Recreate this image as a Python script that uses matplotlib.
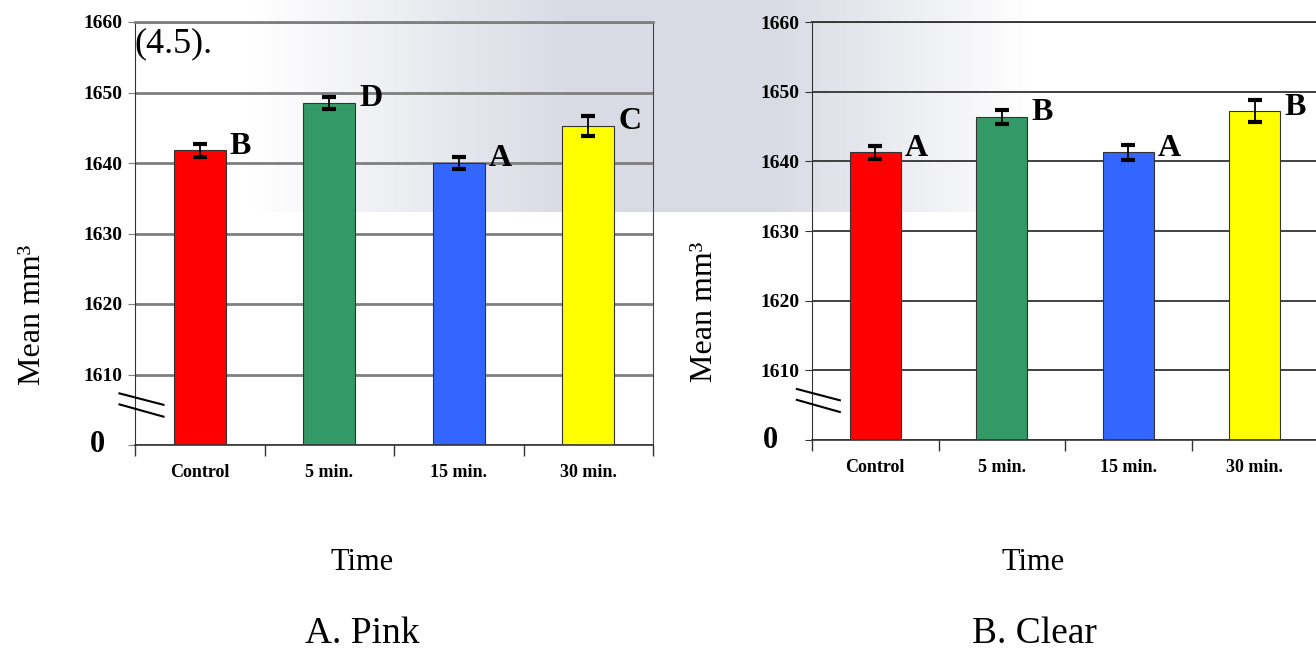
import numpy as np
import matplotlib.pyplot as plt

# data
categories = ['Control', '5 min.', '15 min.', '30 min.']
pink_means = [1641.8, 1648.5, 1640.0, 1645.3]
pink_errs = [0.95, 0.9, 0.85, 1.4]
pink_letters = ['B', 'D', 'A', 'C']
clear_means = [1641.3, 1646.4, 1641.3, 1647.2]
clear_errs = [0.9, 1.0, 1.05, 1.6]
clear_letters = ['A', 'B', 'A', 'B']
y_ticks = [1600, 1610, 1620, 1630, 1640, 1650, 1660]
y_tick_labels = ['0', '1610', '1620', '1630', '1640', '1650', '1660']
bar_colors = ['#ff0000', '#339966', '#3366ff', '#ffff00']

SERIF = 'Liberation Serif'
W, H = 1316, 650

fig = plt.figure(figsize=(W / 100, H / 100), dpi=100)

# faint watermark behind the top of both charts
wm_w, wm_h = 780, 212
xs = np.arange(wm_w)
alpha = np.clip(np.minimum(xs / 320.0, (wm_w - xs) / 260.0), 0, 1) * 0.75
wm = np.zeros((wm_h, wm_w, 4))
wm[..., 0] = 0.80
wm[..., 1] = 0.81
wm[..., 2] = 0.86
wm[..., 3] = alpha[None, :]
img = fig.figimage(wm, xo=250, yo=H - wm_h, origin='upper')
img.set_zorder(-1)


def draw_panel(ax, means, errs, letters, grid_color, grid_lw, right_spine, zero_dx):
    x = np.arange(len(categories))
    base = y_ticks[0]
    ax.set_facecolor('none')
    ax.set_axisbelow(True)
    ax.grid(axis='y', color=grid_color, lw=grid_lw)
    ax.bar(x, np.array(means) - base, bottom=base, width=0.4, color=bar_colors,
           edgecolor='#333333', linewidth=0.8, zorder=2)
    ax.errorbar(x, means, yerr=errs, fmt='none', ecolor='black', elinewidth=1.3,
                capsize=5, capthick=3, zorder=3)
    for xi, m, l in zip(x, means, letters):
        ax.annotate(l, (xi + 0.2, m), xytext=(3, 3), textcoords='offset points',
                    ha='left', va='center', fontsize=23, fontweight='bold', family=SERIF)

    ax.set_xlim(-0.5, 3.5)
    ax.set_ylim(y_ticks[0], y_ticks[-1])
    ax.set_yticks(y_ticks)
    # the "0" at the broken base is drawn on its own, bigger and further left
    ax.set_yticklabels([''] + y_tick_labels[1:], fontsize=14, fontweight='bold', family=SERIF)
    ax.annotate(y_tick_labels[0], xy=(0, base), xycoords=('axes fraction', 'data'),
                xytext=(zero_dx, 0), textcoords='offset points', ha='center', va='center',
                fontsize=22, fontweight='bold', family=SERIF)
    ax.tick_params(axis='y', length=5, color=grid_color, pad=4)

    ax.set_xticks(x)
    ax.set_xticklabels(categories, fontsize=13, fontweight='bold', family=SERIF)
    ax.set_xticks(np.arange(len(categories) + 1) - 0.5, minor=True)
    ax.tick_params(axis='x', which='major', length=0, pad=14)
    ax.tick_params(axis='x', which='minor', length=8, width=1, color='#333333')

    ax.spines['top'].set_color(grid_color)
    ax.spines['top'].set_linewidth(grid_lw)
    ax.spines['right'].set_visible(right_spine)
    ax.spines['right'].set_color('#444444')
    ax.spines['left'].set_color('#333333')
    ax.spines['bottom'].set_color('#333333')
    ax.spines['bottom'].set_linewidth(1.2)

    # axis break marks
    for y0, y1 in [(0.122, 0.095), (0.096, 0.067)]:
        ax.plot([-0.03, 0.055], [y0, y1], transform=ax.transAxes, color='black',
                lw=1.5, clip_on=False, zorder=5)


ax1 = fig.add_axes([135 / W, (H - 445) / H, 518 / W, 423 / H])
draw_panel(ax1, pink_means, pink_errs, pink_letters, '#7f7f7f', 2.0, True, -27)

ax2 = fig.add_axes([812 / W, (H - 440) / H, 506 / W, 418 / H])
draw_panel(ax2, clear_means, clear_errs, clear_letters, '#333333', 1.3, False, -30)

# labels in figure pixels
def ftext(px, py, s, **kw):
    fig.text(px / W, 1 - py / H, s, family=SERIF, **kw)

ftext(32, 315, 'Mean mm³', rotation=90, ha='center', va='center', fontsize=23)
ftext(705, 312, 'Mean mm³', rotation=90, ha='center', va='center', fontsize=23)
ftext(362, 562, 'Time', ha='center', va='center', fontsize=22)
ftext(1033, 562, 'Time', ha='center', va='center', fontsize=22)
ftext(362, 634, 'A. Pink', ha='center', va='center', fontsize=27)
ftext(1034, 634, 'B. Clear', ha='center', va='center', fontsize=27)
ftext(134, 44, '(4.5).', ha='left', va='center', fontsize=26)

fig.savefig('out.png', dpi=100)
